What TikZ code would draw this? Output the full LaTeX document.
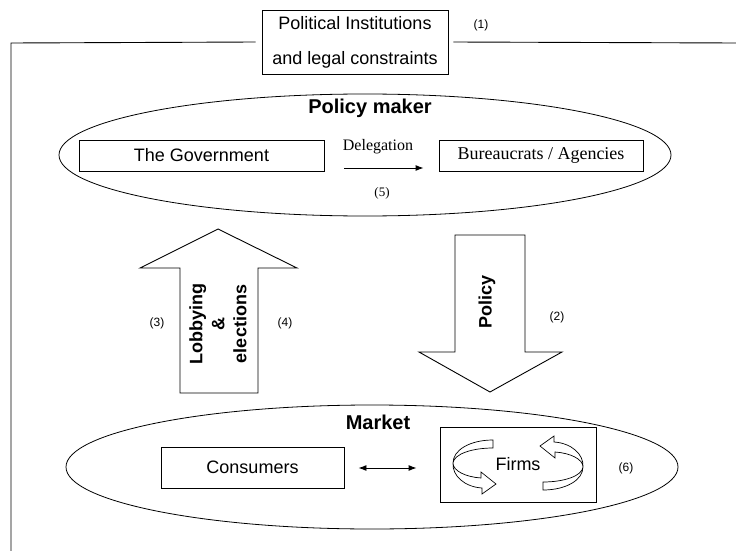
\documentclass[tikz,border=0pt]{standalone}
\usepackage{fontspec}
\setmainfont{Liberation Sans}
\newfontfamily\timesfont{Liberation Serif}
\usetikzlibrary{
    arrows.meta,
    shapes.geometric,
    calc,
    positioning
}

\begin{document}
\begin{tikzpicture}[x=1pt, y=-1pt,
    line width=0.9pt,
    >={Latex[length=8pt, width=6pt]},
    box/.style={draw, inner sep=0pt, font=\fontsize{18}{22}\selectfont},
    zone/.style={draw, ellipse, inner sep=0pt, line width=0.8pt},
    heading/.style={font=\bfseries\fontsize{20}{24}\selectfont},
    tag/.style={font=\fontsize{12}{14}\selectfont},
    flow/.style={font=\bfseries\fontsize{18}{22}\selectfont, rotate=90, align=center}
]
\useasboundingbox (0,0) rectangle (736,551);

% institutional frame
\node[box, align=center, minimum width=186pt, minimum height=64pt,
      font=\fontsize{18}{35}\selectfont] (institutions) at (355,42)
    {Political Institutions\\and legal constraints};
\node[tag] (one) at (481,25) {(1)};
\coordinate (framebot) at (11,551);
\coordinate (frametop) at (11,43);
\coordinate (frameend) at (736,43);
\draw (framebot) -- (frametop) -- ([xshift=-6pt]institutions.west);
\draw ([xshift=5pt]institutions.east) -- (frameend);

% policy maker
\node[zone, minimum width=612pt, minimum height=122pt] (policymaker) at (365,155) {};
\node[heading] (policylabel) at (370,108) {Policy maker};
\node[box, minimum width=245pt, minimum height=31pt] (government) at (201.5,155.5) {The Government};
\node[box, minimum width=204pt, minimum height=31pt, font=\timesfont\fontsize{18}{22}\selectfont]
    (bureaucrats) at (541,155.5) {Bureaucrats / Agencies};
\draw[->] ($(government.east)+(20,12.5)$) -- ($(bureaucrats.west)+(-15,12.5)$);
\node[font=\timesfont\fontsize{16}{18}\selectfont] (delegation) at (378,147) {Delegation};
\node[tag, font=\timesfont\fontsize{13}{15}\selectfont] (five) at (382,193) {(5)};

% lobbying and elections
\draw (180,393) -- (180,268) -- (140,268) -- (218,229) -- (297,268) -- (258,268) -- (258,393) -- cycle;
\node[flow] (lobbying) at (218,324) {Lobbying\\\&\\elections};
\node[tag] (three) at (157,323) {(3)};
\node[tag] (four) at (285,323) {(4)};

% policy
\draw (455,235) -- (525,235) -- (525,352) -- (562,352) -- (490,392) -- (419,352) -- (455,352) -- cycle;
\node[flow] (policy) at (487,302) {Policy};
\node[tag] (two) at (557,317) {(2)};

% market
\node[zone, minimum width=612pt, minimum height=124pt] (market) at (372,467) {};
\node[heading] (marketlabel) at (378,422) {Market};
\node[box, minimum width=183pt, minimum height=41pt] (consumers) at (252.5,467.5) {Consumers};
\node[box, minimum width=156pt, minimum height=75pt] (firms) at (518,464.5) {Firms};
\draw[<->] ($(consumers.east)+(14,0.5)$) -- ($(firms.west)+(-23,3.5)$);
\node[tag] (six) at (626,468) {(6)};

% competition among firms
\foreach \turn in {0,180}
    \draw[fill=white, line width=0.7pt, rotate around={\turn:(518,465)}]
        (493,440) .. controls (470,440) and (453,450) .. (453,463)
        .. controls (453,471) and (466,477) .. (481,478)
        -- (481,472) -- (496,484) -- (482,494) -- (482,488)
        .. controls (465,487) and (452,476) .. (453,463)
        .. controls (454,454) and (472,448) .. (493,448) -- cycle;
\end{tikzpicture}
\end{document}
